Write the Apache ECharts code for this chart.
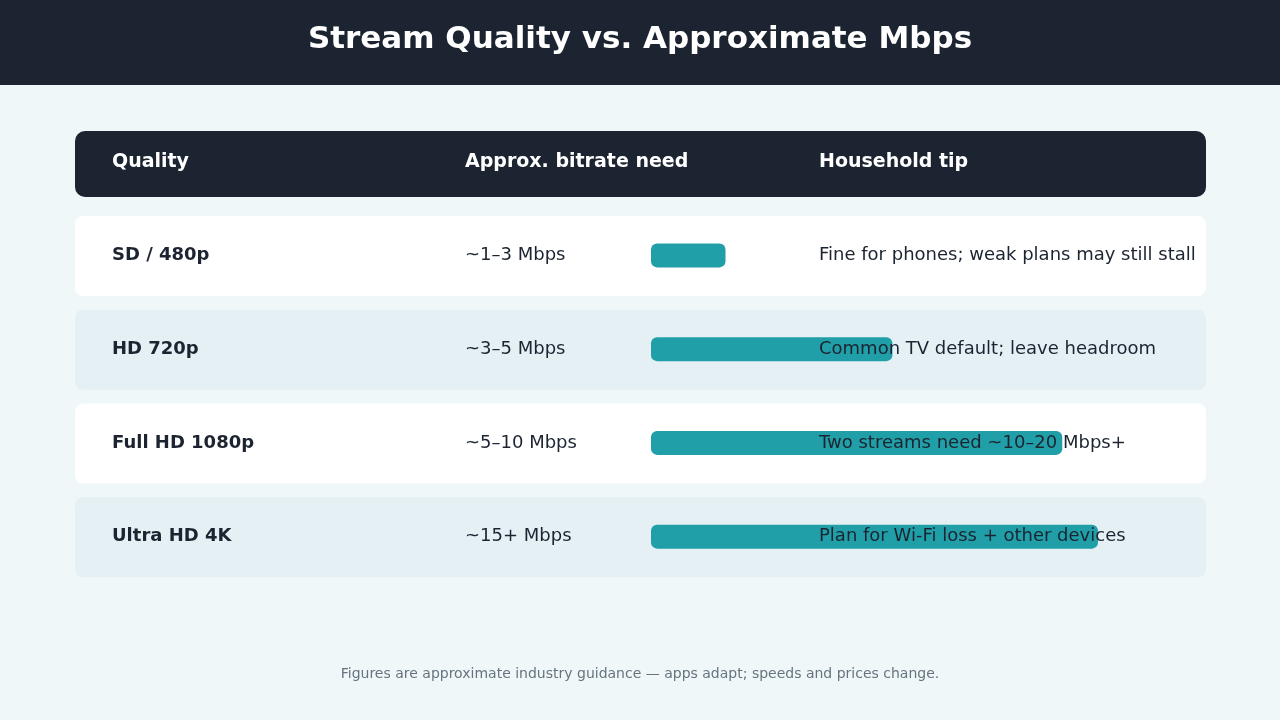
<!DOCTYPE html>
<html><head><meta charset="utf-8">
<script src="https://cdn.jsdelivr.net/npm/echarts@6/dist/echarts.min.js"></script>
<style>html,body{margin:0;background:#eff7f9}#c{width:1280px;height:720px}</style>
</head><body><div id="c"></div>
<script>
const qualities = ['SD / 480p', 'HD 720p', 'Full HD 1080p', 'Ultra HD 4K'];
const bitrates = ['~1–3 Mbps', '~3–5 Mbps', '~5–10 Mbps', '~15+ Mbps'];
const tips = ['Fine for phones; weak plans may still stall', 'Common TV default; leave headroom', 'Two streams need ~10–20 Mbps+', 'Plan for Wi-Fi loss + other devices'];
const barValues = [2.5, 8.1, 13.8, 15];
const headers = ['Quality', 'Approx. bitrate need', 'Household tip'];

const font = 'DejaVu Sans';
const chart = echarts.init(document.getElementById('c'));
const rowBg = qualities.map((q, i) => ({
  type: 'rect', z: -10,
  shape: { x: 75, y: 216 + i * 93.75, width: 1131, height: 80, r: 8 },
  style: { fill: i % 2 ? '#e5f0f5' : '#ffffff' }
}));
chart.setOption({
  backgroundColor: '#eff7f9',
  textStyle: { fontFamily: font },
  graphic: [
    { type: 'rect', z: -10, shape: { x: 0, y: 0, width: 1280, height: 85 }, style: { fill: '#1b2430' } },
    { type: 'text', z: 5, left: 'center', top: 24, style: { text: 'Stream Quality vs. Approximate Mbps', fill: '#fff', font: 'bold 31px ' + font } },
    { type: 'rect', z: -10, shape: { x: 75, y: 131, width: 1131, height: 66, r: 10 }, style: { fill: '#1b2430' } },
    ...headers.map((h, i) => ({ type: 'text', z: 5, left: [112, 465, 819][i], top: 153, style: { text: h, fill: '#fff', font: 'bold 19px ' + font } })),
    ...rowBg,
    { type: 'text', z: 5, left: 'center', top: 667, style: { text: 'Figures are approximate industry guidance — apps adapt; speeds and prices change.', fill: '#66747f', font: '14px ' + font } }
  ],
  grid: { left: 651, width: 447, top: 208.5, height: 375 },
  xAxis: { type: 'value', min: 0, max: 15, show: false },
  yAxis: {
    type: 'category', data: qualities, inverse: true, z: 10,
    axisLine: { show: false }, axisTick: { show: false },
    axisLabel: {
      align: 'left', margin: 539,
      formatter: (v, i) => `{q|${v}}{b|${bitrates[i]}}{t|${tips[i]}}`,
      rich: {
        q: { width: 353, fontWeight: 'bold', fontSize: 18, color: '#1b2430', fontFamily: font },
        b: { width: 354, fontSize: 18, color: '#1b2430', fontFamily: font },
        t: { fontSize: 18, color: '#1b2430', fontFamily: font }
      }
    }
  },
  series: [{
    type: 'bar', data: barValues, barWidth: 24, z: 2,
    itemStyle: { color: '#209fa8', borderRadius: 6 }
  }]
});
</script></body></html>
